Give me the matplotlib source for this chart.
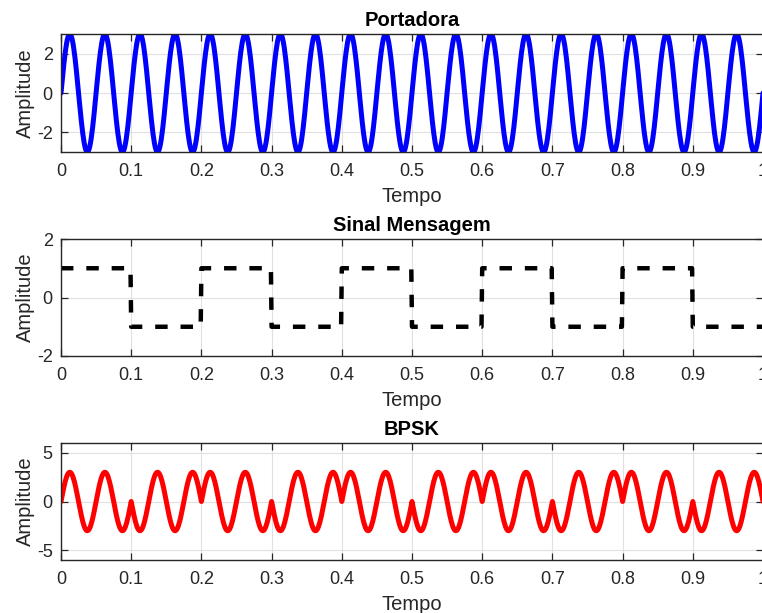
import numpy as np
import matplotlib
matplotlib.use("Agg")
import matplotlib.pyplot as plt

# ---- data ----
carrier_amplitude = 3.0
carrier_freq = 20.0          # Hz (20 cycles in 1 s)
bits = [1, -1, 1, -1, 1, -1, 1, -1, 1, -1]
bit_duration = 0.1           # s
sample_step = 0.001          # s
xticks = [0, 0.1, 0.2, 0.3, 0.4, 0.5, 0.6, 0.7, 0.8, 0.9, 1.0]
xticklabels = ["0", "0.1", "0.2", "0.3", "0.4", "0.5", "0.6", "0.7", "0.8", "0.9", "1"]
titles = ["Portadora", "Sinal Mensagem", "BPSK"]
ylims = [(-3, 3), (-2, 2), (-6, 6)]
yticks = [[-2, 0, 2], [-2, 0, 2], [-5, 0, 5]]
yticklabels = [["-2", "0", "2"], ["-2", "0", "2"], ["-5", "0", "5"]]

samples_per_bit = int(round(bit_duration / sample_step))
t = np.arange(len(bits) * samples_per_bit + 1) * sample_step
carrier = carrier_amplitude * np.sin(2 * np.pi * carrier_freq * t)
message = np.repeat(bits, samples_per_bit)
message = np.append(message, bits[-1])
bpsk = carrier * message

plt.rcParams['font.family'] = ['Liberation Sans', 'DejaVu Sans']

W, H = 762, 613
fig = plt.figure(figsize=(W / 100, H / 100), dpi=100)

left_px, right_px = 61, 763
boxes = [(34, 152), (239, 356), (443, 560)]
series = [carrier, message, bpsk]
styles = [
    dict(color=(0, 0, 1), lw=3.6, solid_capstyle='round', solid_joinstyle='round'),
    dict(color='black', lw=3.2, linestyle=(0, (2.8, 2.9)), dash_capstyle='butt'),
    dict(color=(1, 0, 0), lw=3.6, solid_capstyle='round', solid_joinstyle='round'),
]
spine_col = (0.15, 0.15, 0.15)

for (top, bot), y, st, title, yl, yt, ytl in zip(boxes, series, styles, titles, ylims, yticks, yticklabels):
    ax = fig.add_axes([left_px / W, (H - bot) / H, (right_px - left_px) / W, (bot - top) / H])
    ax.plot(t, y, **st)
    ax.set_xlim(0, 1)
    ax.set_ylim(*yl)
    ax.set_xticks(xticks)
    ax.set_xticklabels(xticklabels)
    ax.set_yticks(yt)
    ax.set_yticklabels(ytl)
    ax.grid(True, color=(0.88, 0.88, 0.88), lw=0.8)
    ax.set_axisbelow(True)
    for s in ax.spines.values():
        s.set_color(spine_col)
        s.set_linewidth(1.0)
    ax.tick_params(direction='in', length=5, width=0.9, color=spine_col,
                   labelsize=13, labelcolor=spine_col, top=True, right=True)
    ax.tick_params(axis='x', pad=8)
    ax.tick_params(axis='y', pad=6)
    ax.set_title(title, fontsize=14.5, fontweight='bold', pad=6)
    ax.set_xlabel("Tempo", fontsize=14.5, color=spine_col, labelpad=5)
    ax.set_ylabel("Amplitude", fontsize=14.5, color=spine_col, labelpad=1)

fig.savefig("out.png", dpi=100)
